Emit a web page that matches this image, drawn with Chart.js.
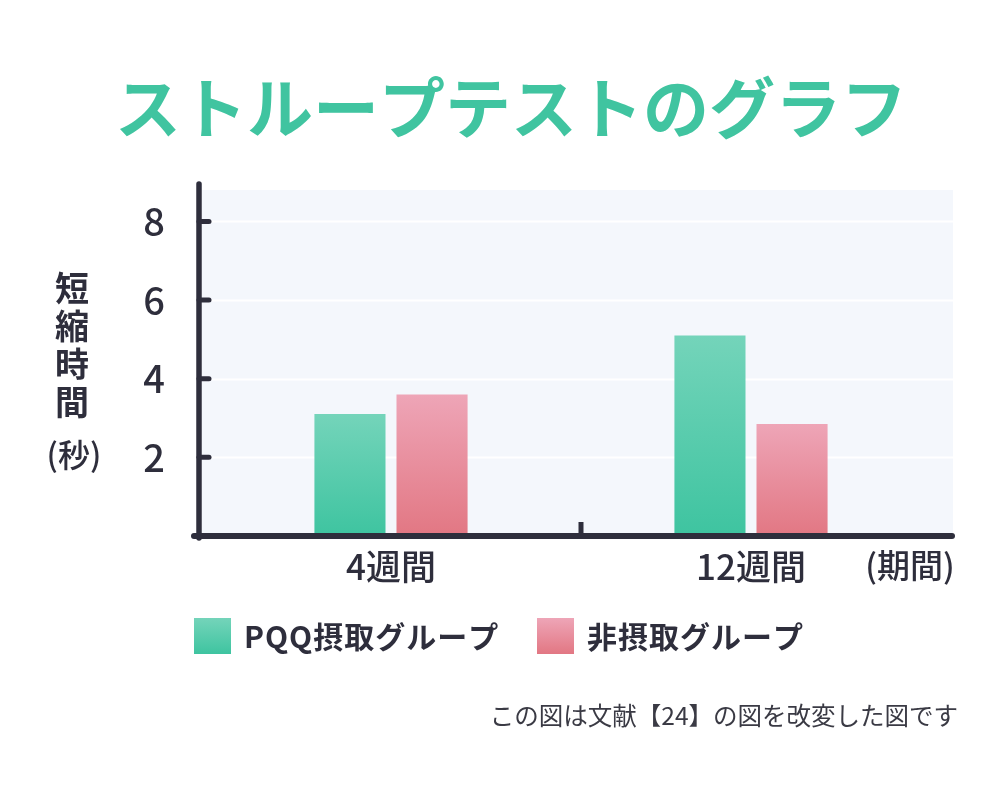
<!DOCTYPE html>
<html lang="ja">
<head>
<meta charset="utf-8">
<script src="https://cdn.jsdelivr.net/npm/chart.js@4.4.1/dist/chart.umd.min.js"></script>
<style>
html,body{margin:0;padding:0;background:#fff;}
#wrap{width:1000px;height:788px;position:relative;}
canvas{display:block;}
</style>
</head>
<body>
<div id="wrap"><canvas id="c" width="1000" height="788"></canvas></div>
<script>
// ---- data ----
const chartTitle = 'ストループテストのグラフ';
const categories = ['4週間', '12週間'];
const seriesNames = ['PQQ摂取グループ', '非摂取グループ'];
const pqqValues = [3.1, 5.1];
const controlValues = [3.6, 2.85];
const yTicks = [2, 4, 6, 8];
const yTitleChars = ['短', '縮', '時', '間'];
const yTitleUnit = '(秒)';
const xTitle = '(期間)';
const footnote = 'この図は文献【24】の図を改変した図です';

// ---- styles ----
const FONT = '"Noto Sans CJK JP", "Noto Sans", sans-serif';
const INK = '#2e2e3c';
const GREEN = ['#74d4ba', '#3ec4a0'];
const PINK = ['#eea5b7', '#e27783'];
const BG = '#f4f7fc';

function barGradient(colors) {
  return function (ctx) {
    const chart = ctx.chart;
    const y = chart.scales && chart.scales.y;
    if (!y || ctx.type !== 'data' || ctx.raw == null) return colors[1];
    const top = y.getPixelForValue(ctx.raw);
    const bot = y.getPixelForValue(0);
    if (!isFinite(top) || !isFinite(bot) || top === bot) return colors[1];
    const g = chart.ctx.createLinearGradient(0, top, 0, bot);
    g.addColorStop(0, colors[0]);
    g.addColorStop(1, colors[1]);
    return g;
  };
}

const decor = {
  id: 'decor',
  beforeDraw(chart) {
    const c = chart.ctx;
    const y = chart.scales.y;
    const left = 202, right = 953;
    const top = y.getPixelForValue(y.max);
    const base = y.getPixelForValue(0);
    c.save();
    c.fillStyle = BG;
    c.fillRect(left, top, right - left, base - top);
    c.strokeStyle = '#ffffff';
    c.lineWidth = 2;
    yTicks.forEach(v => {
      const py = Math.round(y.getPixelForValue(v)) + 0.5;
      c.beginPath(); c.moveTo(left, py); c.lineTo(right, py); c.stroke();
    });
    c.restore();
  },
  afterDatasetsDraw(chart) {
    const c = chart.ctx;
    const y = chart.scales.y;
    const x = chart.scales.x;
    const base = y.getPixelForValue(0);
    const axisX = 199;
    c.save();
    c.strokeStyle = INK;
    c.lineCap = 'round';
    c.lineWidth = 5.5;
    c.beginPath(); c.moveTo(axisX, 184); c.lineTo(axisX, base + 2); c.stroke();
    c.lineWidth = 6;
    c.beginPath(); c.moveTo(194, base); c.lineTo(952, base); c.stroke();
    c.lineWidth = 5;
    yTicks.forEach(v => {
      const py = y.getPixelForValue(v);
      c.beginPath(); c.moveTo(axisX, py); c.lineTo(209, py); c.stroke();
    });
    const mid = (x.getPixelForValue(0) + x.getPixelForValue(1)) / 2 + 10;
    c.lineWidth = 5;
    c.lineCap = 'butt';
    c.beginPath(); c.moveTo(mid, base); c.lineTo(mid, base - 14); c.stroke();
    c.restore();
  },
  afterDraw(chart) {
    const c = chart.ctx;
    c.save();
    c.fillStyle = '#40c4a0';
    c.font = 'bold 66px ' + FONT;
    c.textAlign = 'center';
    c.textBaseline = 'middle';
    c.fillText(chartTitle, 511, 108);
    c.fillStyle = INK;
    c.font = 'bold 34px ' + FONT;
    const ys = [288, 326, 364, 402];
    yTitleChars.forEach((ch, i) => c.fillText(ch, 72, ys[i]));
    c.font = '500 32px ' + FONT;
    c.fillText(yTitleUnit, 74, 455);
    c.font = '500 33px ' + FONT;
    c.fillText(xTitle, 910, 565);
    const items = [
      {x: 194, colors: GREEN, label: chart.data.datasets[0].label},
      {x: 537, colors: PINK, label: chart.data.datasets[1].label}
    ];
    items.forEach(it => {
      const g = c.createLinearGradient(0, 618, 0, 654);
      g.addColorStop(0, it.colors[0]);
      g.addColorStop(1, it.colors[1]);
      c.fillStyle = g;
      c.fillRect(it.x, 618, 37, 36);
      c.fillStyle = INK;
      c.font = 'bold 30px ' + FONT;
      c.textAlign = 'left';
      try { c.letterSpacing = '1px'; } catch (e) {}
      c.fillText(it.label, it.x + 50, 637);
      try { c.letterSpacing = '0px'; } catch (e) {}
    });
    c.fillStyle = '#3a3a44';
    c.font = '24.5px ' + FONT;
    c.textAlign = 'right';
    c.fillText(footnote, 958, 716);
    c.restore();
  }
};

new Chart(document.getElementById('c'), {
  type: 'bar',
  data: {
    labels: categories,
    datasets: [
      {label: seriesNames[0], data: pqqValues, backgroundColor: barGradient(GREEN), borderWidth: 0},
      {label: seriesNames[1], data: controlValues, backgroundColor: barGradient(PINK), borderWidth: 0}
    ]
  },
  options: {
    responsive: false,
    animation: false,
    devicePixelRatio: 1,
    layout: {padding: {top: 190, left: 0, right: 69, bottom: 192}},
    datasets: {bar: {categoryPercentage: 0.456, barPercentage: 0.866}},
    plugins: {legend: {display: false}, title: {display: false}, tooltip: {enabled: false}},
    scales: {
      x: {
        type: 'category',
        grid: {display: false, drawTicks: false},
        border: {display: false},
        afterFit(s) { s.height = 60; },
        ticks: {color: INK, font: {family: FONT, size: 35, weight: 500}, padding: 10}
      },
      y: {
        type: 'linear',
        min: 0,
        max: 8.8,
        grid: {display: false, drawTicks: false},
        border: {display: false},
        afterFit(s) { s.width = 211; },
        afterBuildTicks(s) { s.ticks = yTicks.map(v => ({value: v})); },
        ticks: {color: INK, font: {family: FONT, size: 38, weight: 500}, padding: 46}
      }
    }
  },
  plugins: [decor]
});
</script>
</body>
</html>
